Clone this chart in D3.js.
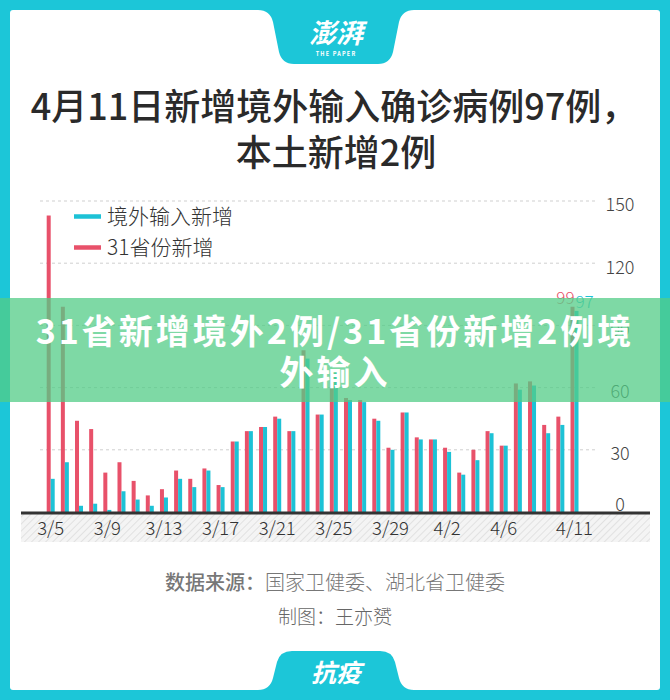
<!DOCTYPE html>
<html>
<head>
<meta charset="utf-8">
<script src="https://cdn.jsdelivr.net/npm/d3@7"></script>
<style>
  html,body{margin:0;padding:0;background:#fff;}
  svg{display:block;}
  text{font-family:"Noto Sans CJK SC","Noto Sans",sans-serif;}
</style>
</head>
<body>
<svg id="chart" width="670" height="700"></svg>
<script>
// ---- data ----
const dates = ["3/5","3/6","3/7","3/8","3/9","3/10","3/11","3/12","3/13","3/14","3/15","3/16","3/17",
  "3/18","3/19","3/20","3/21","3/22","3/23","3/24","3/25","3/26","3/27","3/28","3/29","3/30","3/31",
  "4/1","4/2","4/3","4/4","4/5","4/6","4/7","4/8","4/9","4/10","4/11"];
const provinceNew = [143,99,44,40,19,24,15,8,11,20,16,21,13,34,39,41,46,39,78,47,67,55,54,45,31,48,36,35,31,19,30,39,32,62,63,42,46,99];
const importedNew = [16,24,3,4,1,10,6,3,7,16,12,20,12,34,39,41,45,39,74,47,67,54,53,44,30,48,35,35,29,18,25,38,32,59,61,38,42,97];
const xTickLabels = ["3/5","3/9","3/13","3/17","3/21","3/25","3/29","4/2","4/6","4/11"];
const yTickValues = [0,30,60,90,120,150];
const seriesNames = ["境外输入新增","31省份新增"];
const titleLines = ["4月11日新增境外输入确诊病例97例，","本土新增2例"];
const bannerLines = ["31省新增境外2例/31省份新增2例境","外输入"];
const footerSource = ["数据来源：","国家卫健委、湖北省卫健委"];
const footerAuthor = "制图：王亦赟";

const CYAN = "#1dc2d6", RED = "#e8516a", FRAME = "#1cc6d8";

const svg = d3.select("#chart");

// ---- frame ----
svg.append("rect").attr("width",670).attr("height",700).attr("fill",FRAME);
svg.append("rect").attr("x",10).attr("y",10).attr("width",650).attr("height",680).attr("rx",3).attr("fill","#fff");
// top tab
svg.append("path").attr("fill",FRAME)
  .attr("d","M258,10 Q270,10 273,22 L279,52 Q282,64 294,64 L378,64 Q390,64 393,52 L399,22 Q402,10 414,10 Z");
svg.append("text").attr("x",336).attr("y",43).attr("text-anchor","middle")
  .attr("fill","#fff").attr("font-size",27).attr("font-weight",700).attr("font-style","italic")
  .text("澎湃");
svg.append("text").attr("x",336).attr("y",56).attr("text-anchor","middle")
  .attr("fill","#fff").attr("font-size",5.5).attr("font-weight",700).attr("letter-spacing",1.2)
  .text("THE PAPER");
// bottom tab
svg.append("path").attr("fill",FRAME)
  .attr("d","M258,690 Q270,690 273,678 L277,662 Q280,651 292,651 L380,651 Q392,651 395,662 L399,678 Q402,690 414,690 Z");
svg.append("text").attr("x",336).attr("y",682).attr("text-anchor","middle")
  .attr("fill","#fff").attr("font-size",25).attr("font-weight",700).attr("font-style","italic")
  .text("抗疫");

// ---- title ----
svg.append("text").attr("x",334).attr("y",120).attr("text-anchor","middle")
  .attr("fill","#2a2a2a").attr("font-size",36).attr("font-weight",500).text(titleLines[0]);
svg.append("text").attr("x",336).attr("y",166).attr("text-anchor","middle")
  .attr("fill","#2a2a2a").attr("font-size",36).attr("font-weight",500).text(titleLines[1]);

// ---- scales ----
const step = (574.5-50.7)/(dates.length-1);
const x = d3.scaleBand().domain(dates).range([50.7-step/2, 574.5+step/2]).padding(0);
const cx = d => x(d) + x.bandwidth()/2;
const y = d3.scaleLinear().domain([0,150]).range([512,201]);

// gridlines
svg.append("g").selectAll("line").data(yTickValues.filter(v=>v>0)).join("line")
  .attr("x1",40).attr("x2",598).attr("y1",d=>y(d)).attr("y2",d=>y(d))
  .attr("stroke","#cfcfcf").attr("stroke-width",1).attr("stroke-dasharray","3,3");

// y axis (right side labels)
const yAxis = d3.axisRight(y).tickValues(yTickValues).tickSize(0).tickPadding(0);
const gy = svg.append("g").attr("transform","translate(620,0)").call(yAxis);
gy.select(".domain").remove();
gy.selectAll("text").attr("text-anchor","middle").attr("x",0)
  .attr("dy",d=> d===0 ? "-0.1em" : "0.55em")
  .attr("fill","#444").attr("font-size",18).attr("font-weight",300)
  .attr("font-family","'Noto Sans CJK SC','Noto Sans',sans-serif");

// bars
const bw = 4;
svg.append("g").selectAll("rect").data(dates).join("rect")
  .attr("x",d=>cx(d)-bw).attr("width",bw)
  .attr("y",(d,i)=>y(provinceNew[i])).attr("height",(d,i)=>y(0)-y(provinceNew[i]))
  .attr("fill",RED);
svg.append("g").selectAll("rect").data(dates).join("rect")
  .attr("x",d=>cx(d)).attr("width",bw)
  .attr("y",(d,i)=>y(importedNew[i])).attr("height",(d,i)=>y(0)-y(importedNew[i]))
  .attr("fill",CYAN);

// last value labels
const li = dates.length-1;
svg.append("text").attr("x",cx(dates[li])).attr("y",y(provinceNew[li])-3)
  .attr("text-anchor","end").attr("fill",RED).attr("font-size",17).attr("font-weight",300)
  .text(provinceNew[li]);
svg.append("text").attr("x",cx(dates[li])+1).attr("y",y(importedNew[li])-3)
  .attr("text-anchor","start").attr("fill",CYAN).attr("font-size",17).attr("font-weight",300)
  .text(importedNew[li]);

// hatched x-axis band
const defs = svg.append("defs");
const pat = defs.append("pattern").attr("id","hatch").attr("patternUnits","userSpaceOnUse")
  .attr("width",5).attr("height",5).attr("patternTransform","rotate(45)");
pat.append("rect").attr("width",5).attr("height",5).attr("fill","#f4f4f4");
pat.append("line").attr("x1",0).attr("y1",0).attr("x2",0).attr("y2",5)
  .attr("stroke","#dcdcdc").attr("stroke-width",1.6);
svg.append("rect").attr("x",21).attr("y",513).attr("width",629).attr("height",29).attr("fill","url(#hatch)");

// x axis
const xAxis = d3.axisBottom(x).tickValues(xTickLabels).tickSize(0).tickPadding(0);
const gx = svg.append("g").attr("transform","translate(0,512)").call(xAxis);
gx.select(".domain").remove();
gx.selectAll("text").attr("y",23).attr("dy",0)
  .attr("fill","#333").attr("font-size",18.5).attr("font-weight",300)
  .attr("font-family","'Noto Sans CJK SC','Noto Sans',sans-serif");
svg.append("line").attr("x1",21).attr("x2",650).attr("y1",513).attr("y2",513)
  .attr("stroke","#333").attr("stroke-width",3);

// legend
const legend = svg.append("g");
[[CYAN,216.5,seriesNames[0]],[RED,247.5,seriesNames[1]]].forEach(([c,ly,t])=>{
  legend.append("line").attr("x1",74).attr("x2",101).attr("y1",ly).attr("y2",ly)
    .attr("stroke",c).attr("stroke-width",4.5);
  legend.append("text").attr("x",107).attr("y",ly+7.5).attr("fill","#333")
    .attr("font-size",21).attr("font-weight",300).text(t);
});

// footer
const src = svg.append("text").attr("x",335).attr("y",590).attr("text-anchor","middle")
  .attr("fill","#777").attr("font-size",20);
src.append("tspan").attr("font-weight",500).text(footerSource[0]);
src.append("tspan").attr("font-weight",300).text(footerSource[1]);
svg.append("text").attr("x",335).attr("y",624).attr("text-anchor","middle")
  .attr("fill","#666").attr("font-size",19).attr("font-weight",300).text(footerAuthor);

// overlay banner
svg.append("rect").attr("x",0).attr("y",298).attr("width",670).attr("height",104)
  .attr("fill","rgb(83,204,135)").attr("fill-opacity",0.75);
svg.append("text").attr("x",335).attr("y",344).attr("text-anchor","middle")
  .attr("fill","#fff").attr("font-size",34).attr("font-weight",700).attr("letter-spacing",3)
  .text(bannerLines[0]);
svg.append("text").attr("x",335).attr("y",385).attr("text-anchor","middle")
  .attr("fill","#fff").attr("font-size",34).attr("font-weight",700).attr("letter-spacing",3)
  .text(bannerLines[1]);
</script>
</body>
</html>
